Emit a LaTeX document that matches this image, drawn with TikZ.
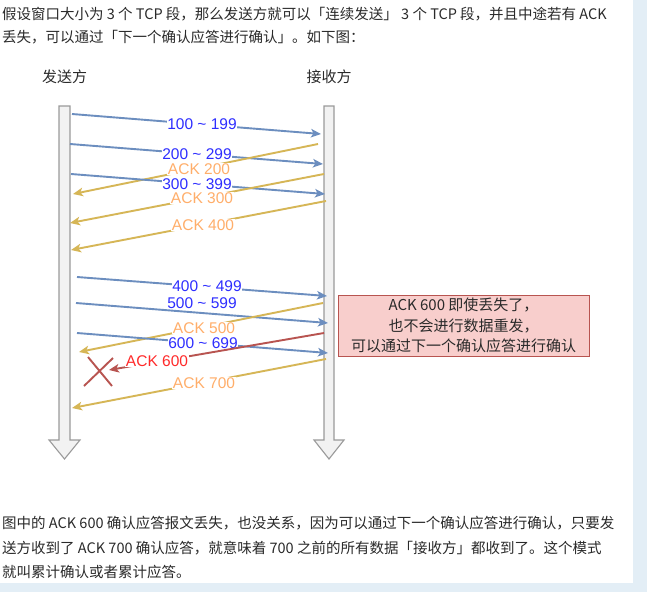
\documentclass[tikz,border=0pt]{standalone}
\usepackage{fontspec}
\setmainfont{Noto Sans CJK SC}
\newfontfamily\lab{Liberation Sans}
\usetikzlibrary{arrows.meta}
\definecolor{bgblue}{HTML}{E3EEF6}
\definecolor{txt}{HTML}{2A2A2A}
\definecolor{lifefill}{HTML}{F2F2F2}
\definecolor{lifedraw}{HTML}{9A9A9A}
\definecolor{msgblue}{HTML}{6C8EBF}
\definecolor{ackyel}{HTML}{D6B656}
\definecolor{lblblue}{HTML}{2E2EFF}
\definecolor{lblorange}{HTML}{FFAE6A}
\definecolor{lostred}{HTML}{B85450}
\definecolor{lblred}{HTML}{FF2A2A}
\definecolor{notefill}{HTML}{F8CECC}
\tikzset{
  prose/.style={anchor=west, inner sep=0pt, text=txt, font=\fontsize{14.5}{17}\selectfont},
  party/.style={inner sep=0pt, text=txt, font=\fontsize{15}{17}\selectfont},
  life/.style={fill=lifefill, draw=lifedraw, line width=1.1pt, line join=miter},
  conn/.style={line width=1.9pt, -{Stealth[length=10pt,width=8.5pt,inset=2.5pt]}},
  msg/.style={conn, draw=msgblue, fill=msgblue},
  ack/.style={conn, draw=ackyel, fill=ackyel},
  lost/.style={conn, draw=lostred, fill=lostred},
  lbl/.style={fill=white, inner sep=0.8pt, font=\lab\fontsize{15.5}{16}\selectfont},
  blbl/.style={lbl, text=lblblue},
  olbl/.style={lbl, text=lblorange},
  rlbl/.style={lbl, text=lblred},
  note/.style={draw=lostred, fill=notefill, line width=0.8pt, minimum width=251pt, minimum height=61pt, align=center, text=txt, font=\fontsize{15}{20.5}\selectfont, inner sep=0pt},
}
\begin{document}
\begin{tikzpicture}[x=1pt,y=-1pt]
\useasboundingbox (0,0) rectangle (647,592);
\fill[bgblue] (0,0) rectangle (647,592);
\fill[white] (0,0) rectangle (633,583);

% prose
\node[prose] (t1) at (2,14) {假设窗口大小为 3 个 TCP 段，那么发送方就可以「连续发送」 3 个 TCP 段，并且中途若有 ACK};
\node[prose] (t2) at (2,37) {丢失，可以通过「下一个确认应答进行确认」。如下图：};
\node[prose] (b1) at (2,523) {图中的 ACK 600 确认应答报文丢失，也没关系，因为可以通过下一个确认应答进行确认，只要发};
\node[prose] (b2) at (2,548) {送方收到了 ACK 700 确认应答，就意味着 700 之前的所有数据「接收方」都收到了。这个模式};
\node[prose] (b3) at (2,572) {就叫累计确认或者累计应答。};

% parties
\node[party] (snd) at (64.5,77) {发送方};
\node[party] (rcv) at (329,77) {接收方};

% lifelines
\draw[life] (59,106) -- (70,106) -- (70,440) -- (80,440) -- (64.5,459) -- (49,440) -- (59,440) -- cycle;
\draw[life] (324,106) -- (334,106) -- (334,440) -- (344,440) -- (329,459) -- (314,440) -- (324,440) -- cycle;

% end points
\coordinate (s1) at (72,114);  \coordinate (r1) at (321,134);
\coordinate (s2) at (70,144);  \coordinate (r2) at (323,164);
\coordinate (ra2) at (318,144); \coordinate (sa2) at (73,194);
\coordinate (s3) at (71,174);  \coordinate (r3) at (325,194);
\coordinate (ra3) at (324,174); \coordinate (sa3) at (70,223);
\coordinate (ra4) at (326,201); \coordinate (sa4) at (71,250);
\coordinate (s4) at (77,277);  \coordinate (r4) at (327,296);
\coordinate (s5) at (76,303);  \coordinate (r5) at (328,323);
\coordinate (ra5) at (323,303); \coordinate (sa5) at (79,352);
\coordinate (s6) at (77,333);  \coordinate (r6) at (328,353);
\coordinate (ra6) at (324,333); \coordinate (sa6) at (109,370);
\coordinate (ra7) at (326,359); \coordinate (sa7) at (72,408);
\coordinate (xa) at (88,357); \coordinate (xb) at (112,386);
\coordinate (xc) at (113,358); \coordinate (xd) at (84,386);

% first window
\draw[msg] (s1) -- (r1);
\node[blbl] (l1) at (202,124) {100 \char`~{} 199};
\draw[msg] (s2) -- (r2);
\node[blbl] (l2) at (197,154) {200 \char`~{} 299};
\draw[ack] (ra2) -- (sa2);
\node[olbl] (la2) at (199,169) {ACK 200};
\draw[msg] (s3) -- (r3);
\node[blbl] (l3) at (197,184) {300 \char`~{} 399};
\draw[ack] (ra3) -- (sa3);
\node[olbl] (la3) at (202,198) {ACK 300};
\draw[ack] (ra4) -- (sa4);
\node[olbl] (la4) at (203,225) {ACK 400};

% second window
\draw[msg] (s4) -- (r4);
\node[blbl] (l4) at (207,286) {400 \char`~{} 499};
\draw[msg] (s5) -- (r5);
\node[blbl] (l5) at (202,303) {500 \char`~{} 599};
\draw[ack] (ra5) -- (sa5);
\node[olbl] (la5) at (204,328) {ACK 500};
\draw[msg] (s6) -- (r6);
\node[blbl] (l6) at (203,343) {600 \char`~{} 699};
\draw[lost] (ra6) -- (sa6);
\node[rlbl] (la6) at (157,361) {ACK 600};
\draw[lostred, line width=1.9pt] (xa) -- (xb) (xc) -- (xd);
\draw[ack] (ra7) -- (sa7);
\node[olbl] (la7) at (204,383) {ACK 700};

% note
\node[note] (nt) at (463.5,325.5) {ACK 600 即使丢失了，\\也不会进行数据重发，\\可以通过下一个确认应答进行确认};
\end{tikzpicture}
\end{document}
